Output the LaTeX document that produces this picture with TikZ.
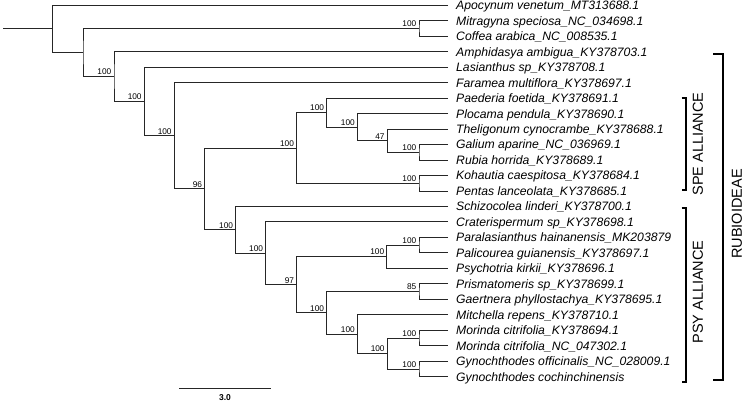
\documentclass[tikz,border=0pt]{standalone}
\usepackage{fontspec}
\setmainfont{Liberation Sans}
\usetikzlibrary{calc}

% clade: name, x, upper child, lower child (y is the mean of the children)
\newcommand\clade[4]{%
  \path let \p1=($(#3)!.5!(#4)$) in (#2pt,\y1) coordinate (#1);
  \draw[branch] (#3) -| (#1) |- (#4);}

\begin{document}
\begin{tikzpicture}[x=1pt,y=-1pt,
  branch/.style={line width=0.9pt,draw=black!85},
  tip/.style={anchor=base west,inner sep=0pt,font=\fontsize{12.2}{14}\selectfont\itshape},
  bs/.style={anchor=south east,inner xsep=2.5pt,inner ysep=1.5pt,font=\fontsize{8.3}{9}\selectfont},
  grp/.style={rotate=90,inner sep=0pt,font=\fontsize{14.5}{16}\selectfont},
  brace/.style={line width=1.9pt}]
  \useasboundingbox (0,0) rectangle (745,403);
  \def\dy{15.475}
  % leaves
  \foreach \txt [count=\i from 0] in {Apocynum venetum\_MT313688.1,
      Mitragyna speciosa\_NC\_034698.1, Coffea arabica\_NC\_008535.1,
      Amphidasya ambigua\_KY378703.1, Lasianthus sp\_KY378708.1,
      Faramea multiflora\_KY378697.1, Paederia foetida\_KY378691.1,
      Plocama pendula\_KY378690.1, Theligonum cynocrambe\_KY378688.1,
      Galium aparine\_NC\_036969.1, Rubia horrida\_KY378689.1,
      Kohautia caespitosa\_KY378684.1, Pentas lanceolata\_KY378685.1,
      Schizocolea linderi\_KY378700.1, Craterispermum sp\_KY378698.1,
      Paralasianthus hainanensis\_MK203879, Palicourea guianensis\_KY378697.1,
      Psychotria kirkii\_KY378696.1, Prismatomeris sp\_KY378699.1,
      Gaertnera phyllostachya\_KY378695.1, Mitchella repens\_KY378710.1,
      Morinda citrifolia\_KY378694.1, Morinda citrifolia\_NC\_047302.1,
      Gynochthodes officinalis\_NC\_028009.1, Gynochthodes cochinchinensis} {
    \coordinate (t\i) at (448,{5.3+\dy*\i});
    \node[tip] (l\i) at (456,{9.7+\dy*\i}) {\txt};
  }
  % SPE alliance
  \clade{GR}{419}{t9}{t10}
  \clade{K}{387.3}{t8}{GR}
  \clade{J}{357.5}{t7}{K}
  \clade{I}{326.7}{t6}{J}
  \clade{KP}{419}{t11}{t12}
  \clade{H}{296.6}{I}{KP}
  % PSY alliance
  \clade{PP}{419}{t15}{t16}
  \clade{N}{386.9}{PP}{t17}
  \clade{PG}{419}{t18}{t19}
  \clade{MM}{419}{t21}{t22}
  \clade{GG}{419}{t23}{t24}
  \clade{Q}{387.3}{MM}{GG}
  \clade{P}{357.5}{t20}{Q}
  \clade{O}{326.7}{PG}{P}
  \clade{M}{296.7}{N}{O}
  \clade{L}{265.7}{t14}{M}
  \clade{G}{235.7}{t13}{L}
  % backbone
  \clade{F}{204.7}{H}{G}
  \clade{E}{174.3}{t5}{F}
  \clade{D}{144.3}{t4}{E}
  \clade{C}{114}{t3}{D}
  \clade{MC}{419}{t1}{t2}
  \clade{B}{83}{MC}{C}
  \clade{R}{52.3}{t0}{B}
  \path (R) ++(-49.3,0) coordinate (stub);
  \draw[branch] (stub) -- (R);
  % support values
  \foreach \n/\v in {C/100,D/100,E/100,F/96,G/100,L/100,M/97,N/100,O/100,
      P/100,Q/100,H/100,I/100,J/100,K/47,MC/100,GR/100,KP/100,PP/100,
      PG/85,MM/100,GG/100}
    \node[bs] (b\n) at (\n) {\v};
  % scale bar
  \coordinate (s0) at (179.3,388.3);
  \coordinate (s1) at (270.7,388.3);
  \draw[branch] (s0) -- (s1) node[midway,anchor=north,inner sep=0pt,yshift=-5.5pt,
    font=\fontsize{8.5}{9}\selectfont\bfseries] (slab) {3.0};
  % groups
  \coordinate (spe0) at (681.5,98);  \coordinate (spe1) at (681.5,190);
  \draw[brace] (spe0) -- ++(4.2,0) |- (spe1);
  \node[grp] (spe) at (698,144) {SPE ALLIANCE};
  \coordinate (psy0) at (681.5,207.7);  \coordinate (psy1) at (681.5,381.7);
  \draw[brace] (psy0) -- ++(4.2,0) |- (psy1);
  \node[grp] (psy) at (698,292) {PSY ALLIANCE};
  \coordinate (rub0) at (713,54);  \coordinate (rub1) at (713,380);
  \draw[brace] (rub0) -- ++(9.7,0) |- (rub1);
  \node[grp] (rub) at (737,214) {RUBIOIDEAE};
\end{tikzpicture}
\end{document}
